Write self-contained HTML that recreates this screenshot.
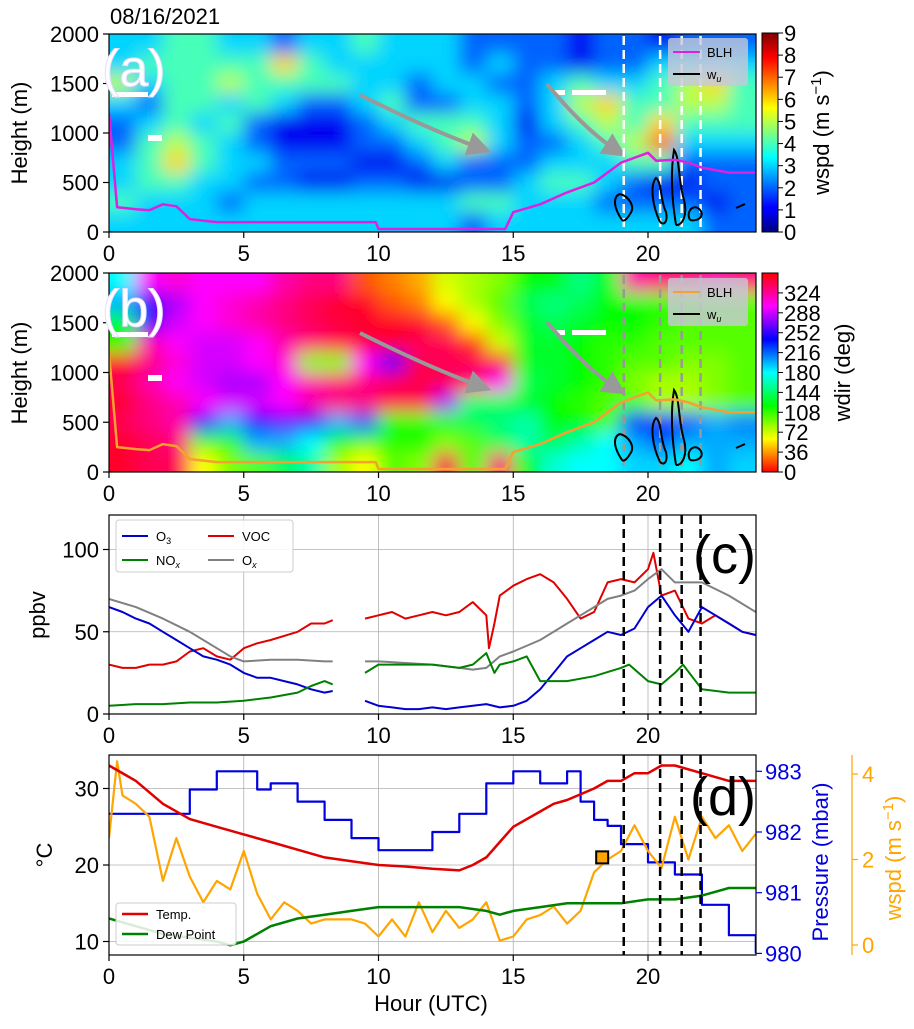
<!DOCTYPE html>
<html><head><meta charset="utf-8"><style>
body{margin:0;background:#fff}
svg text{font-family:"Liberation Sans",sans-serif}
</style></head><body>
<svg id="fig" width="914" height="1024" viewBox="0 0 914 1024" xmlns="http://www.w3.org/2000/svg">
<defs>
<filter id="blr" x="-5%" y="-5%" width="110%" height="110%"><feGaussianBlur stdDeviation="9"/></filter>
<clipPath id="ca"><rect x="109" y="34" width="647" height="198"/></clipPath>
<clipPath id="cb"><rect x="109" y="273" width="647" height="199"/></clipPath>
<clipPath id="cc"><rect x="109" y="515" width="647" height="199"/></clipPath>
<clipPath id="cd"><rect x="109" y="755" width="647" height="200"/></clipPath>
<linearGradient id="jetg" x1="0" y1="1" x2="0" y2="0">
<stop offset="0" stop-color="#00007f"/><stop offset="0.11" stop-color="#0000ff"/><stop offset="0.125" stop-color="#0000ff"/><stop offset="0.375" stop-color="#00ffff"/><stop offset="0.625" stop-color="#ffff00"/><stop offset="0.875" stop-color="#ff0000"/><stop offset="1" stop-color="#7f0000"/></linearGradient>
<linearGradient id="hsvg" x1="0" y1="1" x2="0" y2="0">
<stop offset="0" stop-color="#ff0000"/><stop offset="0.1667" stop-color="#ffff00"/><stop offset="0.3333" stop-color="#00ff00"/><stop offset="0.5" stop-color="#00ffff"/><stop offset="0.6667" stop-color="#0000ff"/><stop offset="0.8333" stop-color="#ff00ff"/><stop offset="1" stop-color="#ff0000"/></linearGradient>
<marker id="ah" markerWidth="6" markerHeight="6" refX="3" refY="3" orient="auto" markerUnits="strokeWidth"><path d="M0,0 L6,3 L0,6 z" fill="#999"/></marker>
</defs>
<g id="root"></g>
</svg>
<script>
// ---------- DATA ----------
const hoursGrid = 24;
const wspdRows = [ // top (1800-2000 m) to bottom (0-200 m)
[3,3,4,4,3,3,2,3,3,4,3,3,3,2,2,2,2,1,2,2,1,2,2,2],
[3,4,4,4,4,4,6,4,3,3,3,3,3,2,3,2,2,1,2,2,3,3,3,3],
[5,3,4,4,5,4,4,4,4,3,3,2,3,3,2,2,3,4,3,3,4,5,6,4],
[3,2,4,4,3,4,3,2,2,3,4,2,2,3,3,2,3,5,6,4,4,5,5,4],
[2,3,4,3,4,2,1,1,1,2,3,4,4,4,3,1,3,4,5,4,6,4,4,4],
[2,4,5,4,3,2,1,1,1,2,2,3,4,5,3,2,2,3,4,5,7,3,3,3],
[3,4,6,4,3,3,2,2,2,1,1,2,3,2,2,2,3,3,3,4,4,2,2,2],
[3,4,4,3,3,2,2,1,1,2,2,1,1,2,2,3,4,4,3,2,1,1,2,2],
[4,3,3,3,2,3,3,3,3,3,3,3,3,4,4,3,3,3,2,2,2,2,1,2],
[3,3,3,3,3,3,3,3,3,3,3,3,3,2,3,3,3,3,3,3,3,3,2,2]];
const wdirRows = [
[180,300,310,300,300,300,320,330,330,20,30,40,70,80,90,120,120,150,130,320,330,330,320,330],
[200,240,280,300,310,320,330,340,350,350,20,30,60,80,100,140,150,140,120,120,110,110,100,100],
[120,250,290,300,310,320,330,340,345,350,350,350,20,60,90,130,140,130,120,120,110,100,100,100],
[120,320,300,290,290,300,320,330,340,345,350,340,340,10,70,130,130,120,110,110,100,100,100,100],
[350,330,310,290,290,300,310,90,90,300,260,340,340,340,350,130,130,120,110,100,100,90,90,100],
[340,320,300,290,280,280,300,320,330,330,340,345,340,330,300,140,130,120,110,90,80,80,90,100],
[350,330,320,300,290,290,300,320,330,330,340,340,280,150,140,130,120,110,100,100,80,80,90,100],
[340,330,320,250,200,240,260,240,200,220,120,110,130,140,150,160,120,120,100,230,230,220,200,210],
[350,340,330,100,110,200,200,180,120,100,110,120,90,100,140,160,140,160,180,200,220,200,200,200],
[350,340,340,60,90,100,140,160,80,60,100,90,340,100,330,120,170,180,180,190,190,180,200,190]];
const blhH = [0,0.3,1,1.5,2,2.5,3,4,9.9,10,14.7,15,16,17,18,19,20,20.3,21,21.5,22,23,24];
const blhM = [1200,250,230,220,280,260,130,100,100,30,30,200,280,400,500,700,800,720,730,700,650,600,600];
const eventHours = [19.1,20.45,21.25,21.95];

const o3H = [0,0.5,1,1.5,2,2.5,3,3.5,4,4.5,5,5.5,6,6.5,7,7.5,8,8.3,null,9.5,10,10.5,11,11.5,12,12.5,13,13.5,14,14.5,15,15.5,16,16.5,17,17.5,18,18.5,19,19.5,20,20.5,21,21.5,22,22.5,23,23.5,24];
const o3V = [65,62,58,55,50,45,40,35,33,30,25,22,22,20,18,15,13,14,null,8,5,4,3,3,4,3,4,5,6,4,5,8,15,25,35,40,45,50,48,52,65,72,60,50,65,60,55,50,48];
const oxH = [0,1,2,3,4,4.5,5,6,7,8,8.3,null,9.5,10,11,12,13,13.5,14,14.5,15,16,17,17.5,18,18.5,19,19.5,20,20.5,21,22,23,24];
const oxV = [70,65,58,50,40,35,32,33,33,32,32,null,32,32,31,30,28,27,28,35,38,45,55,60,65,70,72,75,82,88,80,80,72,62];
const noxH = [0,1,2,3,4,5,6,7,7.5,8,8.3,null,9.5,10,11,12,13,13.5,14,14.3,14.5,15,15.5,16,17,18,19,19.3,20,20.5,21,21.3,22,23,24];
const noxV = [5,6,6,7,7,8,10,13,17,20,18,null,25,30,30,30,28,30,37,25,30,32,35,20,20,23,28,30,20,18,25,30,15,13,13];
const vocH = [0,0.5,1,1.5,2,2.5,3,3.5,4,4.5,5,5.5,6,7,7.5,8,8.3,null,9.5,10,10.5,11,11.5,12,12.5,13,13.5,14,14.1,14.3,14.5,15,15.5,16,16.5,17,17.5,18,18.5,19,19.5,20,20.2,20.5,21,21.5,22,22.5,23,23.5,24];
const vocV = [30,28,28,30,30,32,38,40,35,33,40,43,45,50,55,55,57,null,58,60,62,58,60,62,60,62,68,60,40,55,72,78,82,85,80,70,58,62,80,82,80,88,98,72,75,58,55,60,55,50,48];

const tH = [0,1,2,3,4,5,6,7,8,9,10,11,12,13,13.5,14,14.5,15,16,16.5,17,18,18.5,19,19.5,20,20.5,21,22,23,24];
const tempV = [33,31,28,26,25,24,23,22,21,20.5,20,19.8,19.5,19.3,20,21,23,25,27,28,28.5,30,31,31,32,32,33,33,32,31,31];
const dewH = [0,1,2,3,4,4.5,5,5.5,6,7,8,9,10,11,12,13,14,14.5,15,16,17,18,19,20,21,22,23,24];
const dewV = [13,12,11,10.5,10,9.5,10,11,12,13,13.5,14,14.5,14.5,14.5,14.5,14,13.5,14,14.5,15,15,15,15.5,15.5,16,17,17];
const presH = [0,1,2,3,4,5,5.5,6,7,8,9,10,11,12,13,14,15,16,17,17.5,18,18.5,19,20,21,22,23,24];
const presV = [982.3,982.3,982.3,982.7,983,983,982.7,982.8,982.5,982.2,981.9,981.7,981.7,982,982.3,982.8,983,982.8,983,982.5,982.2,982.1,981.8,981.5,981.3,980.8,980.3,980];
const wsH = [0,0.3,0.5,1,1.5,2,2.5,3,3.5,4,4.5,5,5.5,6,6.5,7,7.5,8,8.5,9,9.5,10,10.5,11,11.5,12,12.5,13,13.5,14,14.5,15,15.5,16,16.5,17,17.5,18,18.5,19,19.5,20,20.5,21,21.5,22,22.5,23,23.5,24];
const wsV = [2.5,4.3,3.5,3.3,3,1.5,2.5,1.6,1,1.5,1.3,2.2,1.2,0.6,1,0.8,0.5,0.6,0.6,0.6,0.5,0.2,0.6,0.2,1,0.3,0.8,0.4,0.6,1,0.1,0.2,0.6,0.7,0.9,0.5,0.8,1.7,2,2.2,2.8,2.2,1.8,3,2,3,2.5,2.8,2.2,2.6];
const markerPt = [18.3, 2.05];

const xTicks = [0,5,10,15,20];
const hTicks = [0,500,1000,1500,2000];
const cTicks = [0,50,100];
const dTicks = [10,20,30];
const pTicks = [980,981,982,983];
const wTicks = [0,2,4];
const wspdCb = [0,1,2,3,4,5,6,7,8,9];
const wdirCb = [0,36,72,108,144,180,216,252,288,324];

// ---------- SCALES ----------
const X = h => 109 + h*26.95;
const YA = m => 232 - m*0.099;
const YB = m => 472 - m*0.0995;
const YC = v => 714 - v*1.645;
const YD = t => 865 - (t-20)*7.65;
const YP = p => 832 - (p-982)*60.7;
const YW = w => 945 - w*42.75;

const NS="http://www.w3.org/2000/svg";
const root=document.getElementById('root');
function mk(tag,attrs,parent){const e=document.createElementNS(NS,tag);for(const k in attrs)e.setAttribute(k,attrs[k]);(parent||root).appendChild(e);return e;}
function txt(s,x,y,size,anchor,fill,parent){const t=mk('text',{x:x,y:y,'font-size':size,'text-anchor':anchor||'start',fill:fill||'#000'},parent);t.textContent=s;return t;}

function jet(t){t=Math.max(0,Math.min(1,t));const c=v=>Math.round(255*Math.max(0,Math.min(1,v)));return `rgb(${c(1.5-Math.abs(4*t-3))},${c(1.5-Math.abs(4*t-2))},${c(1.5-Math.abs(4*t-1))})`;}
function hsv(d){return `hsl(${d%360},100%,50%)`;}

function heat(rows,yf,colorf,clip,name){
  const g=mk('g',{'clip-path':`url(#${clip})`});
  
  
  const inner=mk('g',{filter:'url(#blr)'},g);
  const nR=rows.length;
  for(let r=-1;r<=nR;r++){for(let c=-1;c<=hoursGrid;c++){
    const rr=Math.max(0,Math.min(nR-1,r)), cc=Math.max(0,Math.min(hoursGrid-1,c));
    const mTop=2000-r*200;
    const rect=mk('rect',{x:X(c),y:yf(mTop),width:X(c+1)-X(c)+0.6,height:yf(mTop-200)-yf(mTop)+0.6,fill:colorf(rows[rr][cc])},inner);
    
    
  }}
  return g;
}
function line(hs,vs,xf,yf,stroke,w,name,clip,step){
  let d='',pen=false;
  for(let i=0;i<hs.length;i++){
    if(hs[i]===null){pen=false;continue;}
    if(!pen){d+=`M${X(hs[i]).toFixed(1)},${yf(vs[i]).toFixed(1)}`;pen=true;}
    else{ if(step) d+=`L${X(hs[i]).toFixed(1)},${yf(vs[i-1]).toFixed(1)}`; d+=`L${X(hs[i]).toFixed(1)},${yf(vs[i]).toFixed(1)}`;}
  }
  const p=mk('path',{d:d,fill:'none',stroke:stroke,'stroke-width':w,'stroke-linejoin':'round','clip-path':clip?`url(#${clip})`:''});
  
  
  return p;
}
function xAxis(yb,name){
  const g=mk('g',{});
  
  
  xTicks.forEach(h=>{mk('line',{x1:X(h),x2:X(h),y1:yb,y2:yb+6,stroke:'#000','stroke-width':1.2},g);txt(String(h),X(h),yb+29,22,'middle','#000',g);});
}
function frame(y0,y1,name){const r=mk('rect',{x:109,y:y0,width:647,height:y1-y0,fill:'none',stroke:'#000','stroke-width':1.2});}
function contours(dy){
  const g=mk('g',{fill:'none',stroke:'#000','stroke-width':2});
  
  
  const shapes=[
   'M622,220 C612,205 614,196 620,194 C628,196 636,206 630,214 C627,219 624,222 622,220',
   'M660,222 C652,205 650,185 656,178 C662,182 660,200 666,212 C668,222 664,226 660,222',
   'M676,225 C672,200 670,175 674,150 C680,158 678,180 684,200 C688,215 682,226 676,225',
   'M690,220 C686,212 692,205 698,208 C706,214 700,222 690,220',
   'M736,208 L745,204'];
  shapes.forEach(s=>{mk('path',{d:s.replace(/(-?\d+(\.\d+)?),(-?\d+(\.\d+)?)/g,(m,a,b,c)=>a+','+(parseFloat(c)+dy))},g);});
}
function vdash(y0,y1,color,name){
  eventHours.forEach(h=>{const l=mk('line',{x1:X(h),x2:X(h),y1:y0,y2:y1,stroke:color,'stroke-width':2.5,'stroke-dasharray':'9,5'});});
}
function arrows(dy){
  [[360,95,430,130,488,148],[547,84,585,130,624,150]].forEach(a=>{
    const p=mk('path',{d:`M${a[0]},${a[1]+dy} Q${a[2]},${a[3]+dy} ${a[4]-8},${a[5]+dy}`,fill:'none',stroke:'#999','stroke-width':4,'marker-end':'url(#ah)'});
    
    
  });
}
function hAxisLeft(ticks,yf,name){
  const g=mk('g',{});
  
  
  ticks.forEach(v=>{mk('line',{x1:103,x2:109,y1:yf(v),y2:yf(v),stroke:'#000','stroke-width':1.2},g);txt(String(v),99,yf(v)+8,22,'end','#000',g);});
}
function whiteBars(dy){
  [[112,92,36,5],[148,135,14,6],[555,90,10,5],[572,90,34,5]].forEach(b=>{const r=mk('rect',{x:b[0],y:b[1]+dy,width:b[2],height:b[3],fill:'#fff'});});
}
function legendAB(y0,blhColor,name){
  const g=mk('g',{});
  
  
  mk('rect',{x:668,y:y0,width:80,height:48,rx:3,fill:'#c8c8d8','fill-opacity':0.8},g);
  mk('line',{x1:673,x2:700,y1:y0+14,y2:y0+14,stroke:blhColor,'stroke-width':2},g);
  txt('BLH',707,y0+19,13,'start','#000',g);
  mk('line',{x1:673,x2:700,y1:y0+36,y2:y0+36,stroke:'#000','stroke-width':2},g);
  const t=txt('w',707,y0+41,13,'start','#000',g);
  const s=mk('tspan',{'font-size':9,dy:3,'font-style':'italic'},t);s.textContent='u';
}
function colorbar(y0,y1,grad,ticks,maxv,label,name,lx){
  const g=mk('g',{});
  
  
  mk('rect',{x:762,y:y0,width:16,height:y1-y0,fill:`url(#${grad})`,stroke:'#000','stroke-width':1},g);
  ticks.forEach(v=>{const y=y1-(v/maxv)*(y1-y0);mk('line',{x1:778,x2:783,y1:y,y2:y,stroke:'#000'},g);txt(String(v),784,y+8,22,'start','#000',g);});
  const lt=txt('',0,0,22,'middle','#000',g);lt.setAttribute('transform',`translate(${lx},${(y0+y1)/2}) rotate(-90)`);
  lt.innerHTML=label;
}

// ---------- PANEL A ----------
txt('08/16/2021',110,24,22,'start','#000');
heat(wspdRows,YA,v=>jet(v/9),'ca','wspd-heatmap');
whiteBars(0);
arrows(0);
vdash(36,230,'#fff','event-line-a');
contours(0);
line(blhH,blhM,X,YA,'#e020e0',2.5,'blh-line-a','ca');
legendAB(38,'#e020e0','legend-a');
frame(34,232,'panel-a-frame');
hAxisLeft(hTicks,YA,'y-axis-a');
xAxis(232,'x-axis-a');
(function(){const t=txt('Height (m)',0,0,22,'middle');t.setAttribute('transform','translate(27,133) rotate(-90)');})();
(function(){const t=txt('(a)',102,86,52,'start','#fff');t.setAttribute('stroke','#e0e0ff');})();
colorbar(33,232,'jetg',wspdCb,9,'wspd (m s<tspan dy="-8" font-size="15">−1</tspan><tspan dy="8">)</tspan>','colorbar-wspd',829);

// ---------- PANEL B ----------
heat(wdirRows,YB,v=>hsv(v),'cb','wdir-heatmap');
whiteBars(240);
arrows(238);
vdash(275,470,'#999','event-line-b');
contours(240);
line(blhH,blhM,X,YB,'#f5a030',2.5,'blh-line-b','cb');
legendAB(278,'#f5a030','legend-b');
frame(273,472,'panel-b-frame');
hAxisLeft(hTicks,YB,'y-axis-b');
xAxis(472,'x-axis-b');
(function(){const t=txt('Height (m)',0,0,22,'middle');t.setAttribute('transform','translate(27,373) rotate(-90)');})();
(function(){const t=txt('(b)',102,326,52,'start','#fff');t.setAttribute('stroke','#e0e0ff');})();
colorbar(273,472,'hsvg',wdirCb,360,'wdir (deg)','colorbar-wdir',850);

// ---------- PANEL C ----------
(function(){
  const g=mk('g',{stroke:'#b0b0b0','stroke-width':0.8});
  
  
  xTicks.forEach(h=>mk('line',{x1:X(h),x2:X(h),y1:515,y2:714},g));
  cTicks.forEach(v=>mk('line',{x1:109,x2:756,y1:YC(v),y2:YC(v)},g));
})();
line(vocH,vocV,X,YC,'#e00000',2,'voc-line','cc');
line(oxH,oxV,X,YC,'#808080',2,'ox-line','cc');
line(o3H,o3V,X,YC,'#0000d0',2,'o3-line','cc');
line(noxH,noxV,X,YC,'#008000',2,'nox-line','cc');
vdash(515,714,'#000','event-line-c');
frame(515,714,'panel-c-frame');
hAxisLeft(cTicks,YC,'y-axis-c');
xAxis(714,'x-axis-c');
(function(){const t=txt('ppbv',0,0,22,'middle');t.setAttribute('transform','translate(45,615) rotate(-90)');})();
txt('(c)',693,573,54,'start');
(function(){
  const g=mk('g',{});
  
  
  mk('rect',{x:116,y:520,width:177,height:52,rx:3,fill:'#fff','fill-opacity':0.85,stroke:'#ccc'},g);
  [['O','3','#0000d0',122,536],['NO','x','#008000',122,560],['VOC','','#e00000',208,536],['O','x','#808080',208,560]].forEach(e=>{
    mk('line',{x1:e[3],x2:e[3]+26,y1:e[4],y2:e[4],stroke:e[2],'stroke-width':2},g);
    const t=txt(e[0],e[3]+34,e[4]+5,13,'start','#000',g);
    if(e[1]){const s=mk('tspan',{'font-size':9,dy:3,'font-style':e[1]==='x'?'italic':'normal'},t);s.textContent=e[1];}
  });
})();

// ---------- PANEL D ----------
(function(){
  const g=mk('g',{stroke:'#b0b0b0','stroke-width':0.8});
  
  
  xTicks.forEach(h=>mk('line',{x1:X(h),x2:X(h),y1:755,y2:955},g));
  dTicks.forEach(v=>mk('line',{x1:109,x2:756,y1:YD(v),y2:YD(v)},g));
})();
line(presH,presV,X,YP,'#0000e0',2.2,'pressure-line','cd',true);
line(wsH,wsV,X,YW,'#ffa500',2.2,'wspd-line','cd');
line(tH,tempV,X,YD,'#e00000',2.5,'temp-line','cd');
line(dewH,dewV,X,YD,'#008000',2.5,'dewpoint-line','cd');
(function(){const r=mk('rect',{x:X(markerPt[0])-6,y:YW(markerPt[1])-6,width:12,height:12,fill:'#ffa500',stroke:'#000','stroke-width':2});})();
vdash(755,955,'#000','event-line-d');
frame(755,955,'panel-d-frame');
hAxisLeft(dTicks,YD,'y-axis-d-temp');
xAxis(955,'x-axis-d');
(function(){
  const g=mk('g',{});
  
  
  pTicks.forEach(p=>{mk('line',{x1:756,x2:762,y1:YP(p),y2:YP(p),stroke:'#0000e0','stroke-width':1.2},g);txt(String(p),765,YP(p)+8,22,'start','#0000e0',g);});
  const t=txt('Pressure (mbar)',0,0,22,'middle','#0000e0',g);t.setAttribute('transform','translate(828,862) rotate(-90)');
})();
(function(){
  const g=mk('g',{});
  
  
  mk('line',{x1:852,x2:852,y1:755,y2:955,stroke:'#ffa500','stroke-width':1.2},g);
  wTicks.forEach(w=>{mk('line',{x1:852,x2:858,y1:YW(w),y2:YW(w),stroke:'#ffa500','stroke-width':1.2},g);txt(String(w),862,YW(w)+8,22,'start','#ffa500',g);});
  const t=txt('',0,0,22,'middle','#ffa500',g);t.setAttribute('transform','translate(901,858) rotate(-90)');
  t.innerHTML='wspd (m s<tspan dy="-8" font-size="15">−1</tspan><tspan dy="8">)</tspan>';
})();
(function(){const t=txt('°C',0,0,22,'middle');t.setAttribute('transform','translate(52,855) rotate(-90)');})();
txt('Hour (UTC)',431,1011,22,'middle');
txt('(d)',690,815,54,'start');
(function(){
  const g=mk('g',{});
  
  
  mk('rect',{x:116,y:903,width:120,height:42,rx:3,fill:'#fff','fill-opacity':0.85,stroke:'#ccc'},g);
  mk('line',{x1:122,x2:148,y1:914,y2:914,stroke:'#e00000','stroke-width':2.5},g);
  txt('Temp.',156,919,13,'start','#000',g);
  mk('line',{x1:122,x2:148,y1:934,y2:934,stroke:'#008000','stroke-width':2.5},g);
  txt('Dew Point',156,939,13,'start','#000',g);
})();
</script>
</body></html>
